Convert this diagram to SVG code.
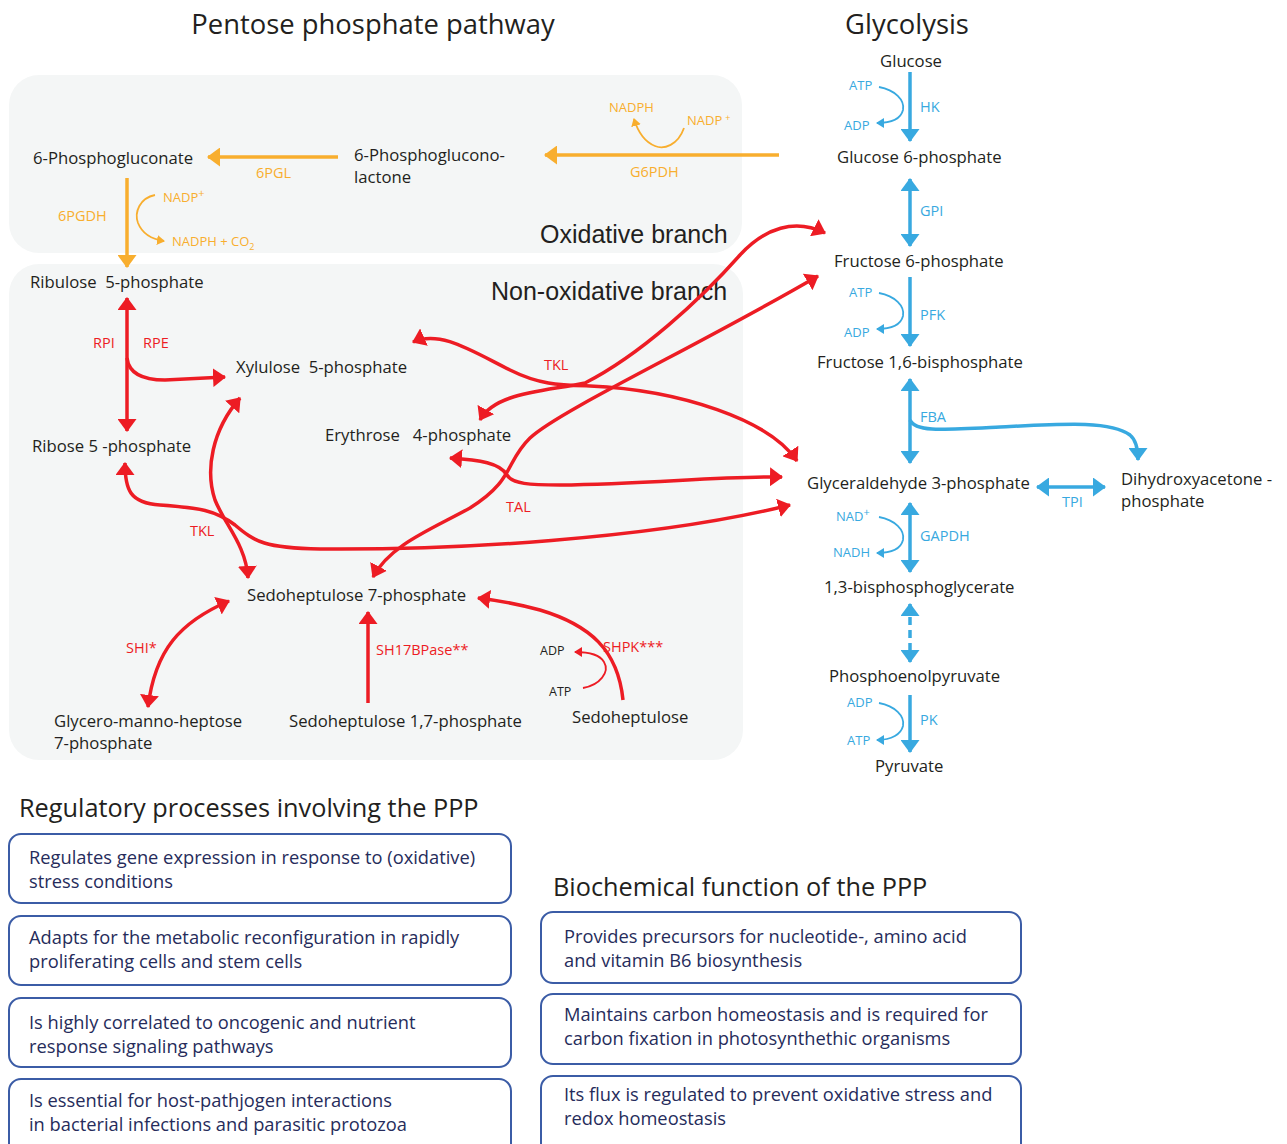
<svg xmlns="http://www.w3.org/2000/svg" width="1287" height="1144" viewBox="0 0 1287 1144">
<style>
text{font-family:"Open Sans","Noto Sans",sans-serif}
.t{font-size:16.7px;fill:#231f20}
.ttl{font-size:27.4px;fill:#231f20}
.br{font-family:"Liberation Sans",Arial,sans-serif;font-size:25px;fill:#231f20}
.o{font-size:14.5px;fill:#f8ae2e}
.oc{font-size:13px;fill:#f8ae2e}
.r{font-size:14.5px;fill:#ed1c24}
.b{font-size:14.5px;fill:#38a9e0}
.bc{font-size:13px;fill:#38a9e0}
.k{font-size:12.5px;fill:#231f20}
.h2{font-size:25.3px;fill:#231f20}
.bt{font-size:18.3px;fill:#262c5b}
.box{fill:#fff;stroke:#3b5ca6;stroke-width:2}
.panel{fill:#f4f6f6}
.lo{fill:none;stroke:#f8ae2e;stroke-width:3.5}
.lr{fill:none;stroke:#ed1c24;stroke-width:3.5}
.lb{fill:none;stroke:#38a9e0;stroke-width:3.5}
.so{fill:none;stroke:#f8ae2e;stroke-width:1.8}
.sr{fill:none;stroke:#ed1c24;stroke-width:1.8}
.sb{fill:none;stroke:#38a9e0;stroke-width:1.8}
</style>
<defs>
<marker id="mO" viewBox="0 0 13 19" refX="12" refY="9.5" markerWidth="13" markerHeight="19" markerUnits="userSpaceOnUse" orient="auto-start-reverse"><path d="M0,0L13,9.5L0,19z" fill="#f8ae2e"/></marker>
<marker id="mR" viewBox="0 0 13 19" refX="12" refY="9.5" markerWidth="13" markerHeight="19" markerUnits="userSpaceOnUse" orient="auto-start-reverse"><path d="M0,0L13,9.5L0,19z" fill="#ed1c24"/></marker>
<marker id="mB" viewBox="0 0 13 19" refX="12" refY="9.5" markerWidth="13" markerHeight="19" markerUnits="userSpaceOnUse" orient="auto-start-reverse"><path d="M0,0L13,9.5L0,19z" fill="#38a9e0"/></marker>
<marker id="sO" viewBox="0 0 8 10" refX="7" refY="5" markerWidth="8" markerHeight="10" markerUnits="userSpaceOnUse" orient="auto"><path d="M0,0L8,5L0,10z" fill="#f8ae2e"/></marker>
<marker id="sR" viewBox="0 0 8 10" refX="7" refY="5" markerWidth="8" markerHeight="10" markerUnits="userSpaceOnUse" orient="auto"><path d="M0,0L8,5L0,10z" fill="#ed1c24"/></marker>
<marker id="sB" viewBox="0 0 8 10" refX="7" refY="5" markerWidth="8" markerHeight="10" markerUnits="userSpaceOnUse" orient="auto"><path d="M0,0L8,5L0,10z" fill="#38a9e0"/></marker>
</defs>

<rect width="1287" height="1144" fill="#fff"/>
<rect class="panel" x="9" y="75" width="733" height="178" rx="30"/>
<rect class="panel" x="9" y="264" width="734" height="496" rx="30"/>

<text class="ttl" x="373" y="34" text-anchor="middle">Pentose phosphate pathway</text>
<text class="ttl" x="907" y="34" text-anchor="middle">Glycolysis</text>
<text class="br" x="540" y="243">Oxidative branch</text>
<text class="br" x="491" y="300">Non-oxidative branch</text>

<g id="connectors">
<path class="lo" d="M779,155L545,155" marker-end="url(#mO)"/>
<path class="so" d="M684,128C678,145 664,150 655,146C645,142 638,132 634,119" marker-end="url(#sO)"/>
<path class="lo" d="M338,157L208,157" marker-end="url(#mO)"/>
<path class="lo" d="M127,178L127,267" marker-end="url(#mO)"/>
<path class="so" d="M155,195C140,198 134,212 138,223C142,233 150,239 164,241" marker-end="url(#sO)"/>
<path class="lr" d="M127,298L127,431" marker-start="url(#mR)" marker-end="url(#mR)"/>
<path class="lr" d="M127,358C129,375 145,380 165,380L225,377" marker-end="url(#mR)"/>
<path class="lr" d="M248,578C246,545 225,525 215,500C205,470 212,430 240,398" marker-start="url(#mR)" marker-end="url(#mR)"/>
<path class="lr" d="M125,463C125,490 130,503 160,505C200,508 215,510 235,525C255,542 265,548 320,549C450,550 650,540 790,505" marker-start="url(#mR)" marker-end="url(#mR)"/>
<path class="lr" d="M450,458C480,460 500,463 507,475C512,484 530,485 560,485C650,484 720,476 782,477" marker-start="url(#mR)" marker-end="url(#mR)"/>
<path class="lr" d="M818,276C700,345 560,410 530,438C505,462 515,480 470,508C430,530 390,545 373,577" marker-start="url(#mR)" marker-end="url(#mR)"/>
<path class="lr" d="M413,342C440,330 470,350 510,370C540,385 560,385 590,386C680,390 770,420 797,461" marker-start="url(#mR)" marker-end="url(#mR)"/>
<path class="lr" d="M825,233C795,218 765,228 740,255C700,300 640,355 585,383C540,392 495,393 480,420" marker-start="url(#mR)" marker-end="url(#mR)"/>
<path class="lr" d="M229,601C180,622 155,650 148,707" marker-start="url(#mR)" marker-end="url(#mR)"/>
<path class="lr" d="M368,703L368,612" marker-end="url(#mR)"/>
<path class="lr" d="M623,700C618,650 590,625 540,610C510,602 495,600 478,598" marker-end="url(#mR)"/>
<path class="sr" d="M583,688C600,685 610,672 604,662C600,655 590,652 575,652" marker-end="url(#sR)"/>
<path class="lb" d="M910,72L910,141" marker-end="url(#mB)"/>
<path class="sb" d="M879,87C895,90 905,100 903,110C901,118 892,123 877,123" marker-end="url(#sB)"/>
<path class="lb" d="M910,179L910,246" marker-start="url(#mB)" marker-end="url(#mB)"/>
<path class="lb" d="M910,277L910,346" marker-end="url(#mB)"/>
<path class="sb" d="M879,293C895,296 905,306 903,316C901,324 892,329 877,329" marker-end="url(#sB)"/>
<path class="lb" d="M910,379L910,463" marker-start="url(#mB)" marker-end="url(#mB)"/>
<path class="lb" d="M910,420C915,432 940,430 1000,427C1060,424 1110,420 1130,435C1136,440 1138,448 1138,460" marker-end="url(#mB)"/>
<path class="lb" d="M1037,487L1105,487" marker-start="url(#mB)" marker-end="url(#mB)"/>
<path class="lb" d="M910,503L910,572" marker-start="url(#mB)" marker-end="url(#mB)"/>
<path class="sb" d="M879,517C895,520 905,530 903,540C901,548 892,553 877,553" marker-end="url(#sB)"/>
<path class="lb" d="M910,604L910,662" stroke-dasharray="8,5" marker-start="url(#mB)" marker-end="url(#mB)"/>
<path class="lb" d="M910,695L910,752" marker-end="url(#mB)"/>
<path class="sb" d="M879,703C895,706 905,716 903,726C901,734 892,740 877,740" marker-end="url(#sB)"/>
</g>

<g id="labels-enzymes">
<text class="oc" x="609" y="112">NADPH</text>
<text class="oc" x="687" y="125">NADP<tspan font-size="9" dy="-4" dx="3">+</tspan></text>
<text class="o" x="630" y="177">G6PDH</text>
<text class="o" x="256" y="178">6PGL</text>
<text class="o" x="58" y="221">6PGDH</text>
<text class="oc" x="163" y="202">NADP<tspan font-size="11" dy="-5">+</tspan></text>
<text class="oc" x="172" y="246">NADPH + CO<tspan font-size="9" dy="4">2</tspan></text>
<text class="r" x="93" y="348">RPI</text>
<text class="r" x="143" y="348">RPE</text>
<text class="r" x="544" y="370">TKL</text>
<text class="r" x="190" y="536">TKL</text>
<text class="r" x="506" y="512">TAL</text>
<text class="r" x="126" y="653">SHI*</text>
<text class="r" x="376" y="655">SH17BPase**</text>
<text class="r" x="603" y="652">SHPK***</text>
<text class="k" x="540" y="655">ADP</text>
<text class="k" x="549" y="696">ATP</text>
<text class="bc" x="849" y="90">ATP</text>
<text class="bc" x="844" y="130">ADP</text>
<text class="b" x="920" y="112">HK</text>
<text class="b" x="920" y="216">GPI</text>
<text class="bc" x="849" y="297">ATP</text>
<text class="bc" x="844" y="337">ADP</text>
<text class="b" x="920" y="320">PFK</text>
<text class="b" x="920" y="422">FBA</text>
<text class="b" x="1062" y="507">TPI</text>
<text class="bc" x="836" y="521">NAD<tspan font-size="11" dy="-5">+</tspan></text>
<text class="bc" x="833" y="557">NADH</text>
<text class="b" x="920" y="541">GAPDH</text>
<text class="bc" x="847" y="707">ADP</text>
<text class="b" x="920" y="725">PK</text>
<text class="bc" x="847" y="745">ATP</text>
</g>

<g id="n-6pg"><text class="t" x="33" y="164">6-Phosphogluconate</text></g>
<g id="n-6pgl"><text class="t" x="354" y="161">6-Phosphoglucono-</text><text class="t" x="354" y="183">lactone</text></g>
<g id="n-ru5p"><text class="t" x="30" y="288" xml:space="preserve">Ribulose  5-phosphate</text></g>
<g id="n-xu5p"><text class="t" x="236" y="373" xml:space="preserve">Xylulose  5-phosphate</text></g>
<g id="n-r5p"><text class="t" x="32" y="452">Ribose 5 -phosphate</text></g>
<g id="n-e4p"><text class="t" x="325" y="441" xml:space="preserve">Erythrose   4-phosphate</text></g>
<g id="n-s7p"><text class="t" x="247" y="601">Sedoheptulose 7-phosphate</text></g>
<g id="n-gmh"><text class="t" x="54" y="727">Glycero-manno-heptose</text><text class="t" x="54" y="749">7-phosphate</text></g>
<g id="n-sbp"><text class="t" x="289" y="727">Sedoheptulose 1,7-phosphate</text></g>
<g id="n-sh"><text class="t" x="572" y="723">Sedoheptulose</text></g>
<g id="n-glc"><text class="t" x="911" y="67" text-anchor="middle">Glucose</text></g>
<g id="n-g6p"><text class="t" x="837" y="163">Glucose 6-phosphate</text></g>
<g id="n-f6p"><text class="t" x="834" y="267">Fructose 6-phosphate</text></g>
<g id="n-fbp"><text class="t" x="817" y="368">Fructose 1,6-bisphosphate</text></g>
<g id="n-gap"><text class="t" x="807" y="489">Glyceraldehyde 3-phosphate</text></g>
<g id="n-dhap"><text class="t" x="1121" y="485">Dihydroxyacetone -</text><text class="t" x="1121" y="507">phosphate</text></g>
<g id="n-bpg"><text class="t" x="824" y="593">1,3-bisphosphoglycerate</text></g>
<g id="n-pep"><text class="t" x="829" y="682">Phosphoenolpyruvate</text></g>
<g id="n-pyr"><text class="t" x="875" y="772">Pyruvate</text></g>

<text class="h2" x="19" y="817">Regulatory processes involving the PPP</text>
<g id="reg1"><rect class="box" x="9" y="834" width="502" height="69" rx="12"/><text class="bt" x="29" y="864">Regulates gene expression in response to (oxidative)</text><text class="bt" x="29" y="888">stress conditions</text></g>
<g id="reg2"><rect class="box" x="9" y="916" width="502" height="69" rx="12"/><text class="bt" x="29" y="944">Adapts for the metabolic reconfiguration in rapidly</text><text class="bt" x="29" y="968">proliferating cells and stem cells</text></g>
<g id="reg3"><rect class="box" x="9" y="998" width="502" height="69" rx="12"/><text class="bt" x="29" y="1029">Is highly correlated to oncogenic and nutrient</text><text class="bt" x="29" y="1053">response signaling pathways</text></g>
<g id="reg4"><rect class="box" x="9" y="1079" width="502" height="80" rx="12"/><text class="bt" x="29" y="1107">Is essential for host-pathjogen interactions</text><text class="bt" x="29" y="1131">in bacterial infections and parasitic protozoa</text></g>

<text class="h2" x="553" y="896">Biochemical function of the PPP</text>
<g id="bio1"><rect class="box" x="541" y="912" width="480" height="71" rx="12"/><text class="bt" x="564" y="943">Provides precursors for nucleotide-, amino acid</text><text class="bt" x="564" y="967">and vitamin B6 biosynthesis</text></g>
<g id="bio2"><rect class="box" x="541" y="994" width="480" height="70" rx="12"/><text class="bt" x="564" y="1021">Maintains carbon homeostasis and is required for</text><text class="bt" x="564" y="1045">carbon fixation in photosynthethic organisms</text></g>
<g id="bio3"><rect class="box" x="541" y="1076" width="480" height="80" rx="12"/><text class="bt" x="564" y="1101">Its flux is regulated to prevent oxidative stress and</text><text class="bt" x="564" y="1125">redox homeostasis</text></g>
</svg>
